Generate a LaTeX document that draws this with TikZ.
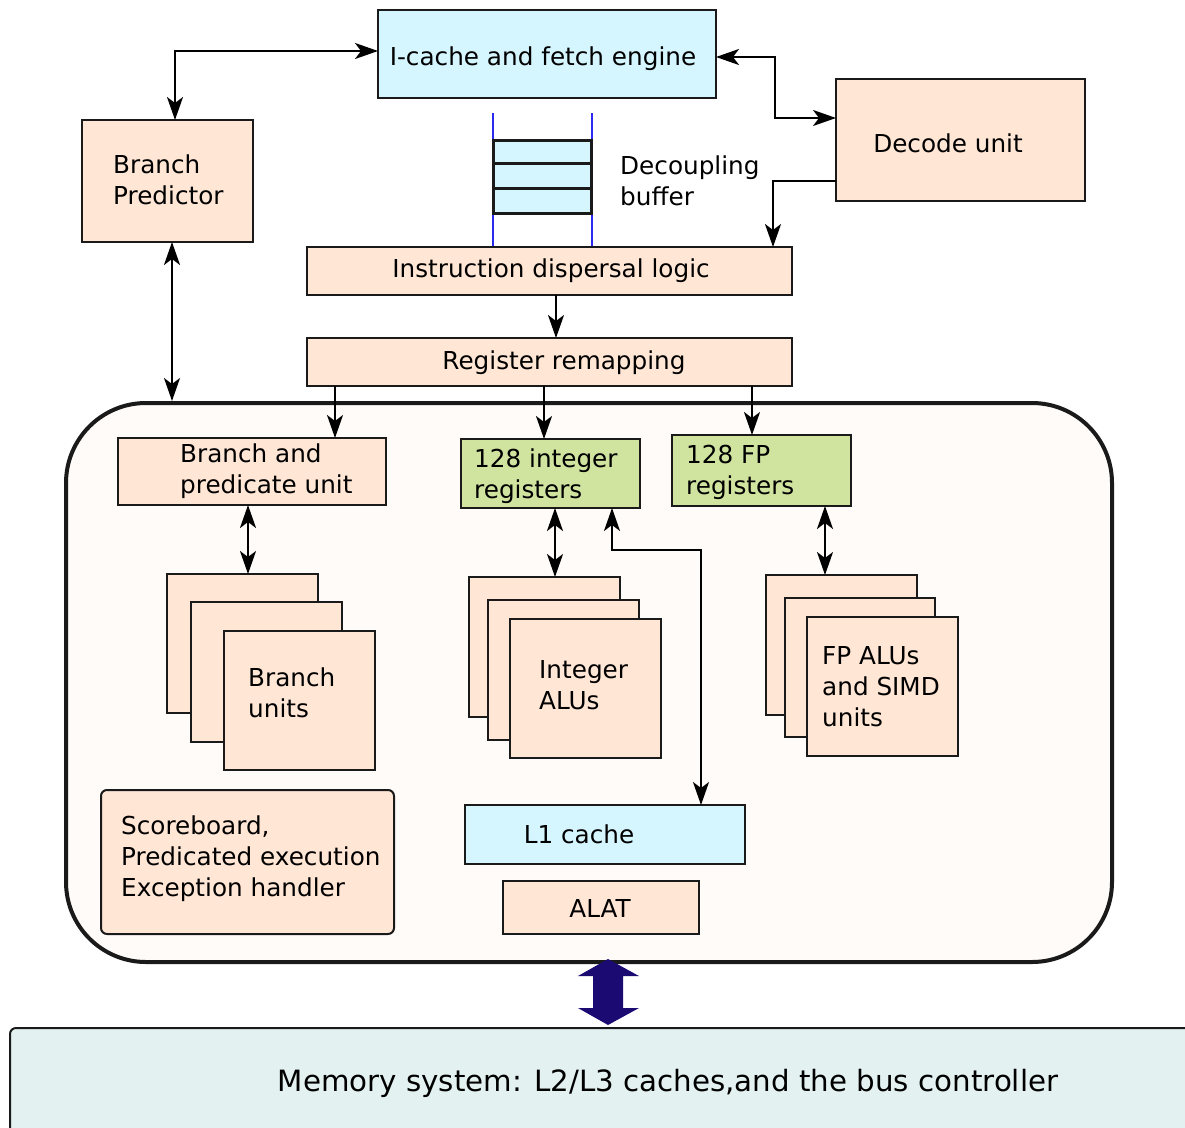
\documentclass[tikz,border=0pt]{standalone}
\usepackage{fontspec}
\setmainfont{DejaVu Sans}
\usetikzlibrary{arrows.meta}

\definecolor{ink}{HTML}{1A1A1A}
\definecolor{peach}{HTML}{FFE6D5}
\definecolor{cyanfill}{HTML}{D5F6FF}
\definecolor{regfill}{HTML}{D0E4A0}
\definecolor{corefill}{HTML}{FFFBF8}
\definecolor{memfill}{HTML}{E3F2F1}
\definecolor{busnavy}{HTML}{1C0A73}
\definecolor{bufline}{HTML}{2A2AF0}

\tikzset{
  tip/.tip={Stealth[length=23pt,width=16pt,inset=6pt]}
}

\begin{document}
\begin{tikzpicture}[x=1pt,y=-1pt,
  blk/.style={draw=ink, line width=2pt, inner sep=0pt, outer sep=0pt, anchor=north west},
  peachbox/.style={blk, fill=peach},
  cyanbox/.style={blk, fill=cyanfill},
  regbox/.style={blk, fill=regfill},
  txt/.style={inner sep=0pt, font=\fontsize{24.7pt}{31pt}\selectfont, text=black},
  ltxt/.style={txt, align=left, anchor=west},
  conn/.style={draw=black, line width=2pt, -tip},
  biconn/.style={draw=black, line width=2pt, tip-tip}
]
\useasboundingbox (0,0) rectangle (1185,1127);
\clip (0,0) rectangle (1185,1127);

% ---- front end ----
\node[cyanbox, minimum width=338pt, minimum height=88pt] (icache) at (378,10) {};
\node[peachbox, minimum width=171pt, minimum height=122pt] (bp) at (82,120) {};
\node[peachbox, minimum width=249pt, minimum height=122pt] (decode) at (836,79) {};

% decoupling buffer between two guide rails
\draw[bufline, line width=1.5pt] (493,113) -- (493,246);
\draw[bufline, line width=1.5pt] (592,113) -- (592,246);
\node[cyanbox, line width=3pt, minimum width=98pt, minimum height=23pt] (buf1) at (493,140) {};
\node[cyanbox, line width=3pt, minimum width=98pt, minimum height=25pt] (buf2) at (493,163) {};
\node[cyanbox, line width=3pt, minimum width=98pt, minimum height=25pt] (buf3) at (493,188) {};

\node[peachbox, minimum width=485pt, minimum height=48pt] (disp) at (307,247) {};
\node[peachbox, minimum width=485pt, minimum height=48pt] (remap) at (307,338) {};

% ---- execution core ----
\node[draw=ink, fill=corefill, line width=4pt, rounded corners=80pt, inner sep=0pt,
      anchor=north west, minimum width=1046pt, minimum height=559pt] (core) at (64,401) {};

\node[peachbox, minimum width=268pt, minimum height=67pt] (bpu) at (118,438) {};
\node[regbox, minimum width=179pt, minimum height=69pt] (intreg) at (461,439) {};
\node[regbox, minimum width=179pt, minimum height=71pt] (fpreg) at (672,435) {};

\node[peachbox, minimum width=151pt, minimum height=139pt] (bu1) at (167,574) {};
\node[peachbox, minimum width=151pt, minimum height=140pt] (bu2) at (191,602) {};
\node[peachbox, minimum width=151pt, minimum height=139pt] (bu3) at (224,631) {};

\node[peachbox, minimum width=151pt, minimum height=140pt] (alu1) at (469,577) {};
\node[peachbox, minimum width=151pt, minimum height=140pt] (alu2) at (488,600) {};
\node[peachbox, minimum width=151pt, minimum height=139pt] (alu3) at (510,619) {};

\node[peachbox, minimum width=151pt, minimum height=140pt] (fpu1) at (766,575) {};
\node[peachbox, minimum width=150pt, minimum height=139pt] (fpu2) at (785,598) {};
\node[peachbox, minimum width=151pt, minimum height=139pt] (fpu3) at (807,617) {};

\node[cyanbox, minimum width=280pt, minimum height=59pt] (l1) at (465,805) {};
\node[peachbox, minimum width=196pt, minimum height=53pt] (alat) at (503,881) {};
\node[peachbox, rounded corners=6pt, minimum width=293pt, minimum height=144pt] (sb) at (101,790) {};

% ---- memory system ----
\node[blk, fill=memfill, rounded corners=6pt, minimum width=1200pt, minimum height=130pt] (mem) at (10,1028) {};

% ---- labels ----
\node[txt] (icacheT) at (543,59) {I-cache and fetch engine};
\node[ltxt] (bpT) at (113,180) {Branch\\Predictor};
\node[txt] (decodeT) at (948,143) {Decode unit};
\node[ltxt] (bufT) at (620,181) {Decoupling\\buffer};
\node[txt] (dispT) at (551,271) {Instruction dispersal logic};
\node[txt] (remapT) at (564,363) {Register remapping};
\node[ltxt] (bpuT) at (180,471) {Branch and\\predicate unit};
\node[ltxt] (intregT) at (474,476) {128 integer\\registers};
\node[ltxt] (fpregT) at (686,472) {128 FP\\registers};
\node[ltxt] (buT) at (248,693) {Branch\\units};
\node[ltxt] (aluT) at (539,685) {Integer\\ALUs};
\node[ltxt] (fpuT) at (822,687) {FP ALUs\\and SIMD\\units};
\node[txt] (l1T) at (579,834) {L1 cache};
\node[txt] (alatT) at (600,908) {ALAT};
\node[ltxt] (sbT) at (121,859) {Scoreboard,\\Predicated execution\\Exception handler};
\node[txt, font=\fontsize{29.3pt}{35pt}\selectfont] (memT) at (668,1083) {Memory system: L2/L3 caches,and the bus controller};

% ---- connectors ----
\draw[biconn] ([yshift=3pt]icache.west) -| (bp.north -| 175,0);
\draw[biconn] ([yshift=-3pt]icache.east) -- ++(59,0) |- ([yshift=22pt]decode.west);
\draw[conn] ([yshift=-41pt]decode.west) -| (disp.north -| 773,0);
\draw[conn] (disp.south -| 556,0) -- (remap.north -| 556,0);
\draw[biconn] (bp.south -| 172,0) -- (core.north -| 172,0);

\draw[conn] (remap.south -| 335,0) -- (bpu.north -| 335,0);
\draw[conn] (remap.south -| 544,0) -- (intreg.north -| 544,0);
\draw[conn] (remap.south -| 752,0) -- (fpreg.north -| 752,0);

\draw[biconn] (bpu.south -| 248,0) -- (bu1.north -| 248,0);
\draw[biconn] (intreg.south -| 555,0) -- (alu1.north -| 555,0);
\draw[biconn] (fpreg.south -| 825,0) -- (fpu1.north -| 825,0);
\draw[biconn] (intreg.south -| 612,0) |- (701,550) -- (l1.north -| 701,0);

% wide bus arrow between core and memory system
\fill[busnavy] (608,959) -- (639,976) -- (623,976) -- (623,1008) -- (639,1008)
  -- (608,1025) -- (578,1008) -- (593,1008) -- (593,976) -- (578,976) -- cycle;
\end{tikzpicture}
\end{document}
